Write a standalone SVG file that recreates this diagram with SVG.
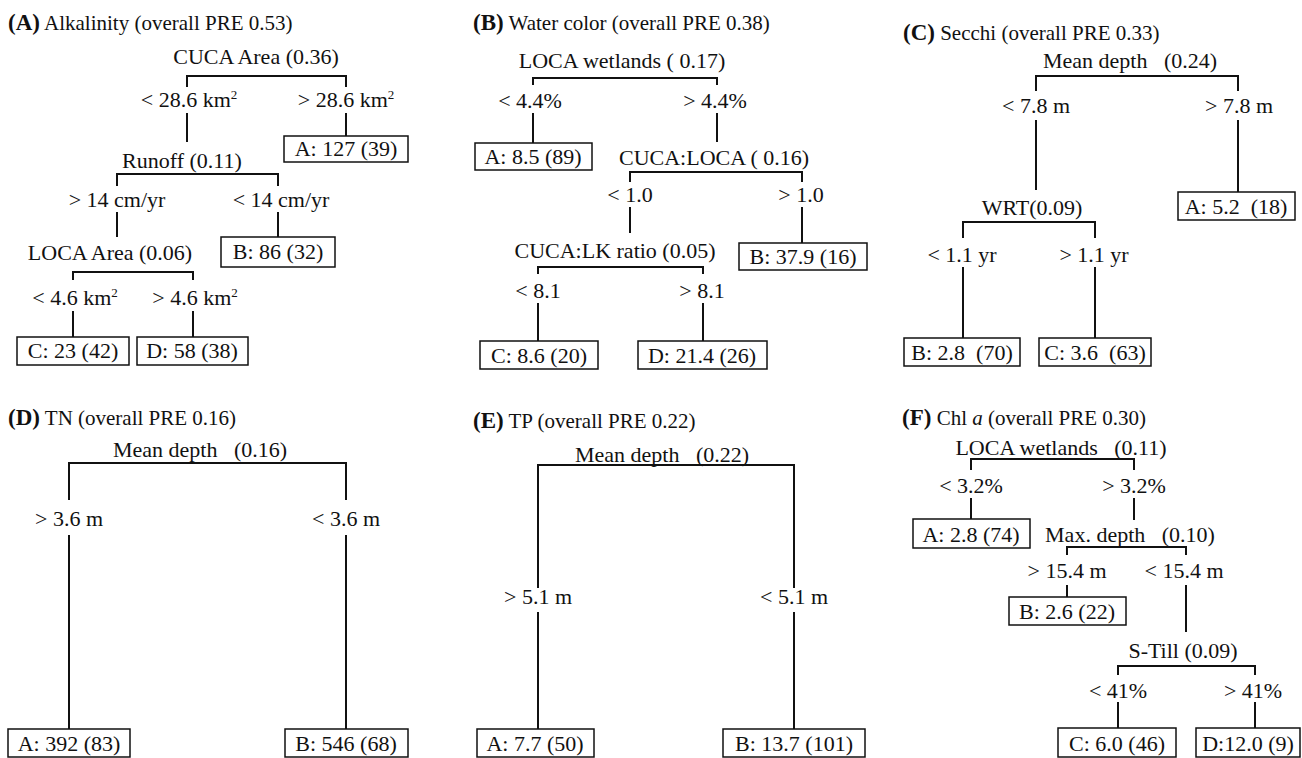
<svg xmlns="http://www.w3.org/2000/svg" width="1302" height="758" viewBox="0 0 1302 758">
<style>
text { font-family: 'Liberation Serif', 'DejaVu Serif', serif; font-size: 22px; fill: #111; }
.ttl { font-size: 21px; }
.c { text-anchor: middle; }
.hd { font-weight: bold; font-size: 23px; }
.sup { font-size: 13px; }
.ln { stroke: #111; stroke-width: 2; fill: none; }
.bx { fill: #fff; stroke: #111; stroke-width: 1.5; }
</style>
<rect width="1302" height="758" fill="#fff"/>

<g id="connectors">
  <path class="ln" d="M187,87 V76 H346 V87 M187,113 V142 M346,113 V136 M117,186 V174 H278 V186 M117,212 V237 M278,212 V237 M73,280 V272 H193 V280 M73,311 V337 M193,311 V337"/>
  <path class="ln" d="M533,85 V78 H717 V85 M533,113 V143 M717,113 V142 M630,182 V172 H802 V182 M630,207 V233 M802,207 V243 M538,274 V267 H703 V274 M538,303 V341 M703,303 V341"/>
  <path class="ln" d="M1036,91 V76 H1238 V91 M1036,120 V190 M1238,120 V192 M963,238 V222 H1095 V238 M963,267 V338 M1095,267 V338"/>
  <path class="ln" d="M69,500 V463 H346 V500 M69,535 V729 M346,535 V729"/>
  <path class="ln" d="M538,588 V465 H794 V588 M538,612 V729 M794,612 V729"/>
  <path class="ln" d="M971,470 V459 H1134 V470 M971,498 V519 M1134,498 V520 M1067,555 V547 H1186 V555 M1067,585 V597 M1186,585 V632 M1118,675 V666 H1255 V675 M1118,702 V728 M1255,702 V728"/>
</g>

<g id="titleA"><text class="ttl" x="8" y="30"><tspan class="hd">(A)</tspan> Alkalinity (overall PRE 0.53)</text></g>
<g id="A-root"><text class="c" x="256" y="64">CUCA Area (0.36)</text></g>
<g id="A-lbl1"><text class="c" x="189" y="107">&lt; 28.6 km<tspan class="sup" dy="-8">2</tspan></text></g>
<g id="A-lbl2"><text class="c" x="346" y="107">&gt; 28.6 km<tspan class="sup" dy="-8">2</tspan></text></g>
<g id="A-leafA"><rect class="bx" x="284" y="136" width="124" height="26"/><text class="c" x="346" y="156">A: 127 (39)</text></g>
<g id="A-runoff"><text class="c" x="182" y="168">Runoff (0.11)</text></g>
<g id="A-lbl3"><text class="c" x="117" y="207">&gt; 14 cm/yr</text></g>
<g id="A-lbl4"><text class="c" x="281" y="207">&lt; 14 cm/yr</text></g>
<g id="A-leafB"><rect class="bx" x="221" y="237" width="114" height="30"/><text class="c" x="278" y="259">B: 86 (32)</text></g>
<g id="A-loca"><text class="c" x="110" y="260">LOCA Area (0.06)</text></g>
<g id="A-lbl5"><text class="c" x="75" y="305">&lt; 4.6 km<tspan class="sup" dy="-8">2</tspan></text></g>
<g id="A-lbl6"><text class="c" x="195" y="305">&gt; 4.6 km<tspan class="sup" dy="-8">2</tspan></text></g>
<g id="A-leafC"><rect class="bx" x="17" y="337" width="112" height="28"/><text class="c" x="73" y="358">C: 23 (42)</text></g>
<g id="A-leafD"><rect class="bx" x="137" y="337" width="111" height="28"/><text class="c" x="192" y="358">D: 58 (38)</text></g>

<g id="titleB"><text class="ttl" x="473" y="30"><tspan class="hd">(B)</tspan> Water color (overall PRE 0.38)</text></g>
<g id="B-root"><text class="c" x="622" y="68" xml:space="preserve">LOCA wetlands ( 0.17)</text></g>
<g id="B-lbl1"><text class="c" x="530" y="108">&lt; 4.4%</text></g>
<g id="B-lbl2"><text class="c" x="715" y="108">&gt; 4.4%</text></g>
<g id="B-leafA"><rect class="bx" x="475" y="143" width="117" height="27"/><text class="c" x="533" y="164">A: 8.5 (89)</text></g>
<g id="B-cl"><text class="c" x="714" y="165" xml:space="preserve">CUCA:LOCA ( 0.16)</text></g>
<g id="B-lbl3"><text class="c" x="630" y="202">&lt; 1.0</text></g>
<g id="B-lbl4"><text class="c" x="801" y="202">&gt; 1.0</text></g>
<g id="B-leafB"><rect class="bx" x="739" y="243" width="128" height="27"/><text class="c" x="803" y="264">B: 37.9 (16)</text></g>
<g id="B-lk"><text class="c" x="615" y="258">CUCA:LK ratio (0.05)</text></g>
<g id="B-lbl5"><text class="c" x="538" y="298">&lt; 8.1</text></g>
<g id="B-lbl6"><text class="c" x="702" y="298">&gt; 8.1</text></g>
<g id="B-leafC"><rect class="bx" x="480" y="341" width="118" height="28"/><text class="c" x="539" y="363">C: 8.6 (20)</text></g>
<g id="B-leafD"><rect class="bx" x="638" y="341" width="129" height="28"/><text class="c" x="702" y="363">D: 21.4 (26)</text></g>

<g id="titleC"><text class="ttl" x="903" y="40"><tspan class="hd">(C)</tspan> Secchi (overall PRE 0.33)</text></g>
<g id="C-root"><text class="c" x="1130" y="68" xml:space="preserve">Mean depth   (0.24)</text></g>
<g id="C-lbl1"><text class="c" x="1036" y="113">&lt; 7.8 m</text></g>
<g id="C-lbl2"><text class="c" x="1239" y="113">&gt; 7.8 m</text></g>
<g id="C-leafA"><rect class="bx" x="1178" y="192" width="117" height="28"/><text class="c" x="1236" y="214" xml:space="preserve">A: 5.2  (18)</text></g>
<g id="C-wrt"><text class="c" x="1032" y="215">WRT(0.09)</text></g>
<g id="C-lbl3"><text class="c" x="962" y="262">&lt; 1.1 yr</text></g>
<g id="C-lbl4"><text class="c" x="1094" y="262">&gt; 1.1 yr</text></g>
<g id="C-leafB"><rect class="bx" x="904" y="338" width="116" height="28"/><text class="c" x="962" y="360" xml:space="preserve">B: 2.8  (70)</text></g>
<g id="C-leafC"><rect class="bx" x="1039" y="338" width="112" height="28"/><text class="c" x="1095" y="360" xml:space="preserve">C: 3.6  (63)</text></g>

<g id="titleD"><text class="ttl" x="8" y="425"><tspan class="hd">(D)</tspan> TN (overall PRE 0.16)</text></g>
<g id="D-root"><text class="c" x="200" y="457" xml:space="preserve">Mean depth   (0.16)</text></g>
<g id="D-lbl1"><text class="c" x="69" y="526">&gt; 3.6 m</text></g>
<g id="D-lbl2"><text class="c" x="346" y="526">&lt; 3.6 m</text></g>
<g id="D-leafA"><rect class="bx" x="8" y="729" width="122" height="28"/><text class="c" x="69" y="751">A: 392 (83)</text></g>
<g id="D-leafB"><rect class="bx" x="285" y="729" width="123" height="28"/><text class="c" x="346" y="751">B: 546 (68)</text></g>

<g id="titleE"><text class="ttl" x="473" y="428"><tspan class="hd">(E)</tspan> TP (overall PRE 0.22)</text></g>
<g id="E-root"><text class="c" x="662" y="462" xml:space="preserve">Mean depth   (0.22)</text></g>
<g id="E-lbl1"><text class="c" x="538" y="604">&gt; 5.1 m</text></g>
<g id="E-lbl2"><text class="c" x="794" y="604">&lt; 5.1 m</text></g>
<g id="E-leafA"><rect class="bx" x="477" y="729" width="117" height="28"/><text class="c" x="535" y="751">A: 7.7 (50)</text></g>
<g id="E-leafB"><rect class="bx" x="723" y="729" width="142" height="28"/><text class="c" x="794" y="751">B: 13.7 (101)</text></g>

<g id="titleF"><text class="ttl" x="902" y="425"><tspan class="hd">(F)</tspan> Chl <tspan font-style="italic">a</tspan> (overall PRE 0.30)</text></g>
<g id="F-root"><text class="c" x="1061" y="455" xml:space="preserve">LOCA wetlands   (0.11)</text></g>
<g id="F-lbl1"><text class="c" x="971" y="493">&lt; 3.2%</text></g>
<g id="F-lbl2"><text class="c" x="1134" y="493">&gt; 3.2%</text></g>
<g id="F-leafA"><rect class="bx" x="913" y="519" width="117" height="29"/><text class="c" x="971" y="542">A: 2.8 (74)</text></g>
<g id="F-max"><text class="c" x="1130" y="542" xml:space="preserve">Max. depth   (0.10)</text></g>
<g id="F-lbl3"><text class="c" x="1067" y="578">&gt; 15.4 m</text></g>
<g id="F-lbl4"><text class="c" x="1184" y="578">&lt; 15.4 m</text></g>
<g id="F-leafB"><rect class="bx" x="1009" y="597" width="117" height="28"/><text class="c" x="1067" y="619">B: 2.6 (22)</text></g>
<g id="F-till"><text class="c" x="1183" y="658">S-Till (0.09)</text></g>
<g id="F-lbl5"><text class="c" x="1118" y="698">&lt; 41%</text></g>
<g id="F-lbl6"><text class="c" x="1253" y="698">&gt; 41%</text></g>
<g id="F-leafC"><rect class="bx" x="1058" y="728" width="118" height="29"/><text class="c" x="1117" y="751">C: 6.0 (46)</text></g>
<g id="F-leafD"><rect class="bx" x="1196" y="728" width="104" height="29"/><text class="c" x="1248" y="751">D:12.0 (9)</text></g>
</svg>
